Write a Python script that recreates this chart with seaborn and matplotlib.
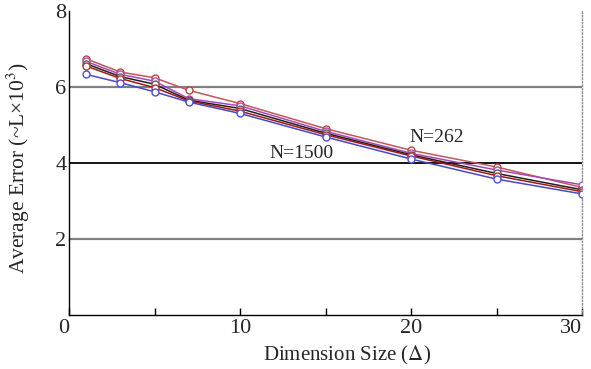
import matplotlib
matplotlib.use("Agg")
import matplotlib.pyplot as plt
import seaborn as sns
import pandas as pd
from matplotlib.ticker import MultipleLocator

# ---- data ----
dims = [1, 3, 5, 7, 10, 15, 20, 25, 30]
series_red_light = [6.75, 6.40, 6.25, 5.92, 5.57, 4.91, 4.34, 3.90, 3.36]
series_magenta   = [6.68, 6.34, 6.16, 5.70, 5.51, 4.84, 4.26, 3.82, 3.43]
series_black     = [6.62, 6.28, 6.08, 5.66, 5.44, 4.79, 4.22, 3.73, 3.30]
series_dark_red  = [6.56, 6.23, 5.99, 5.64, 5.37, 4.75, 4.19, 3.67, 3.25]
series_blue      = [6.34, 6.12, 5.88, 5.61, 5.31, 4.69, 4.11, 3.58, 3.19]
series_names = ["s1", "s2", "s3", "s4", "s5"]
x_ticks = [0, 10, 20, 30]
y_ticks = [2, 4, 6, 8]
annotations = ["N=262", "N=1500"]

sns.set_theme(style="white")
plt.rcParams['font.family'] = ['Liberation Serif', 'DejaVu Serif']
plt.rcParams['mathtext.fontset'] = 'stix'

fig = plt.figure(figsize=(5.91, 3.69), dpi=100)
ax = fig.add_axes([0.1168, 0.1463, 0.868, 0.823])

rows = []
for name, vals in zip(series_names, [series_red_light, series_magenta, series_black,
                                     series_dark_red, series_blue]):
    for d, v in zip(dims, vals):
        rows.append({"dim": d, "err": v, "series": name})
df = pd.DataFrame(rows)

line_colors = {"s1": "#c05858", "s2": "#a848b8", "s3": "#202020", "s4": "#a01818", "s5": "#4848c8"}
marker_edges = {"s1": "#c04040", "s2": "#b050b0", "s3": "#606060", "s4": "#c03030", "s5": "#5050d0"}

# grid lines
ax.axhline(6, color="#808080", lw=1.6, zorder=1)
ax.axhline(4, color="#000000", lw=1.3, zorder=1)
ax.axhline(2, color="#808080", lw=1.6, zorder=1)

for name in series_names:
    sub = df[df["series"] == name]
    sns.lineplot(data=sub, x="dim", y="err", ax=ax, color=line_colors[name], lw=1.1,
                 marker="o", markersize=5, markerfacecolor="white",
                 markeredgecolor=marker_edges[name], markeredgewidth=1.0, zorder=3)

ax.set_xlim(0, 30)
ax.set_ylim(0, 8)
ax.set_xticks(x_ticks)
ax.set_yticks(y_ticks)
ax.xaxis.set_minor_locator(MultipleLocator(5))
ax.tick_params(axis="x", which="both", direction="in", length=5, width=1, color="black",
               labelsize=16, pad=3, bottom=True)
ax.tick_params(axis="y", which="both", length=0, labelsize=16, pad=2)
for lbl in ax.get_xticklabels():
    if lbl.get_text() == "0":
        lbl.set_horizontalalignment("right")
    if lbl.get_text() == "30":
        lbl.set_horizontalalignment("right")

for s in ["left", "bottom"]:
    ax.spines[s].set_color("black")
    ax.spines[s].set_linewidth(1.0)
ax.spines["top"].set_visible(False)
ax.spines["right"].set_color("#909090")
ax.spines["right"].set_linestyle((0, (1, 1.5)))
ax.spines["right"].set_linewidth(1.0)

ax.set_xlabel("Dimension Size ($\\Delta$)", fontsize=15, labelpad=2)
ax.xaxis.set_label_coords(0.542, -0.095)
ax.set_ylabel("Average Error (~L\u00d710$^3$)", fontsize=15.5, labelpad=6)
ax.yaxis.set_label_coords(-0.072, 0.485)

ax.text(21.5, 4.68, annotations[0], fontsize=14, ha="center", va="center")
ax.text(13.6, 4.26, annotations[1], fontsize=14, ha="center", va="center")

fig.savefig("out.png", dpi=100)
